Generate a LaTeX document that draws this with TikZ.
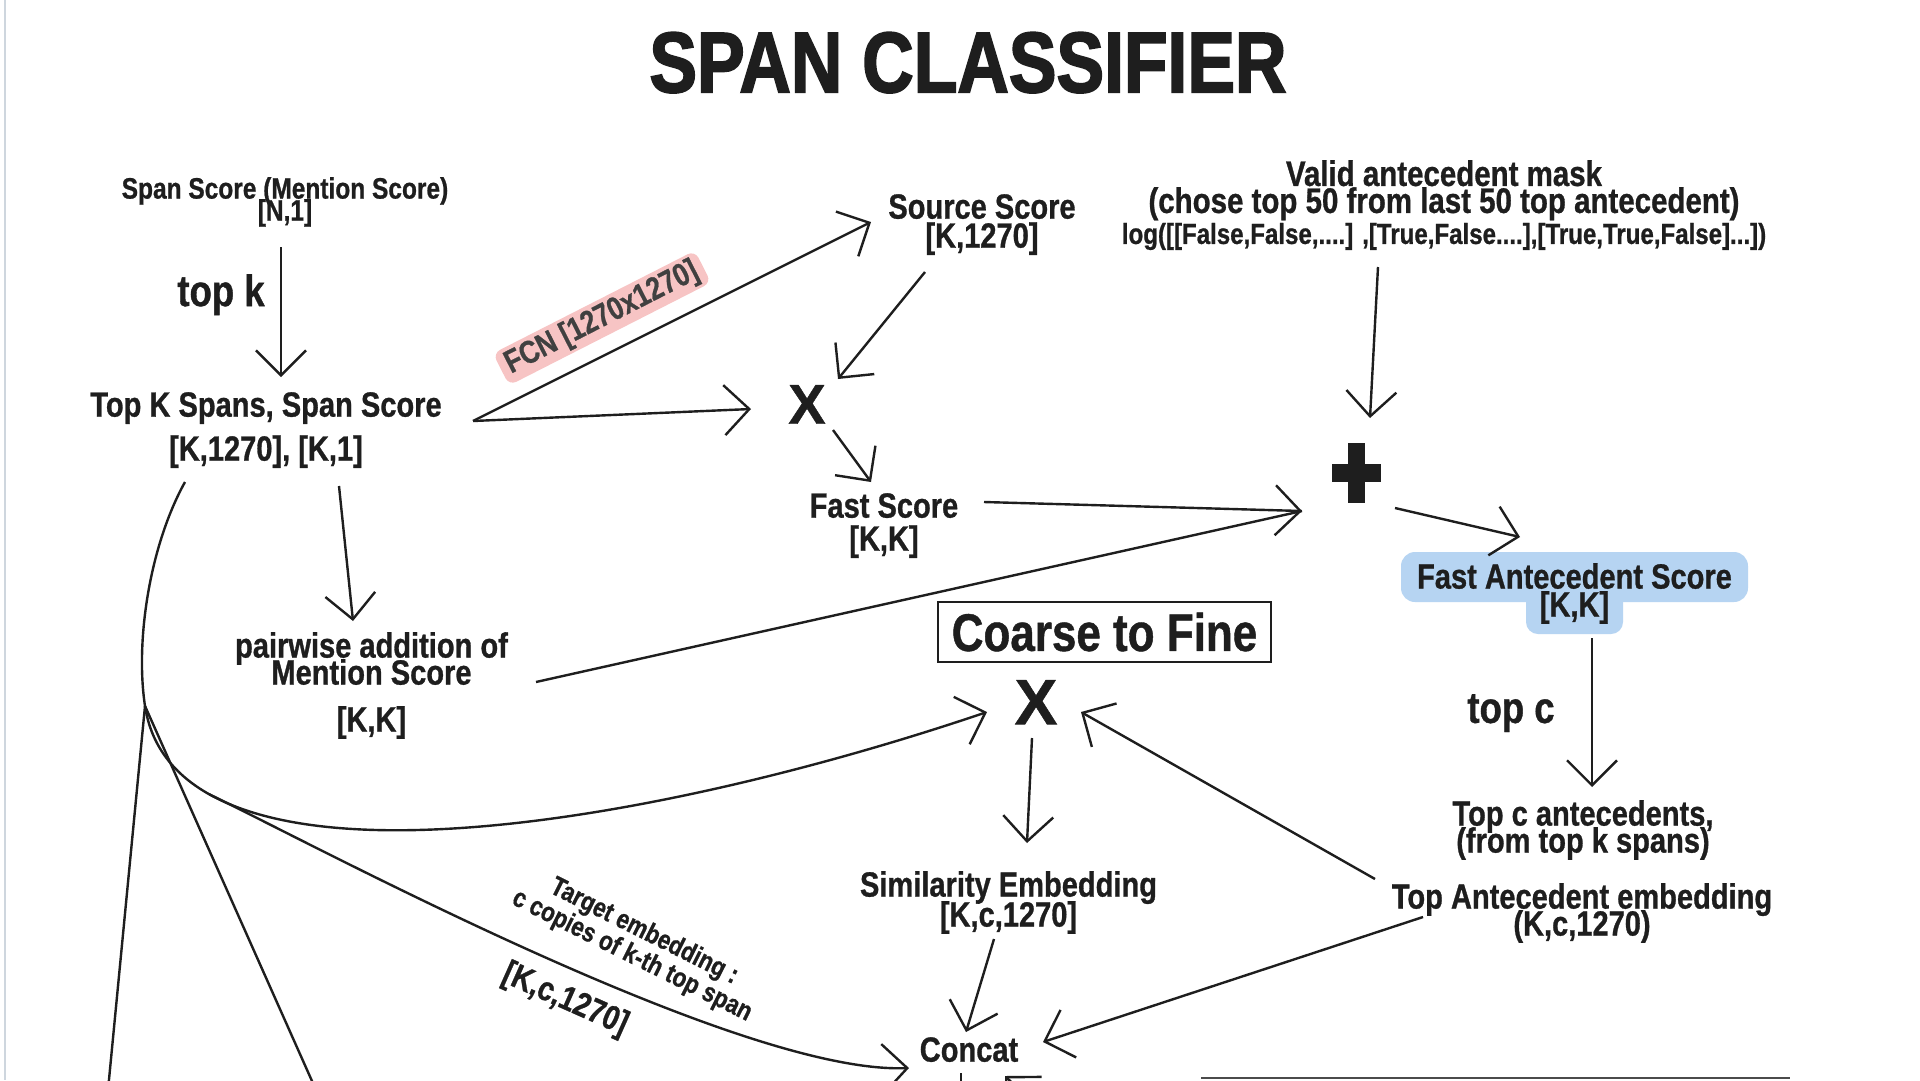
\documentclass[tikz,border=0pt]{standalone}
\usepackage{fontspec}
\setmainfont{Liberation Sans}[FakeStretch=0.83,FakeBold=0.8]
\newfontfamily\xfont{Liberation Sans}[FakeBold=0.8]
\newfontfamily\heavyfont{Liberation Sans}[FakeStretch=0.83,FakeBold=2]
\usetikzlibrary{arrows.meta,calc}
\definecolor{ink}{HTML}{1E1E1E}
\definecolor{pinkhl}{HTML}{F7C4C4}
\definecolor{bluehl}{HTML}{B6D4F2}
\definecolor{edgegray}{HTML}{CED6DE}
\newcommand\fz[2]{\fontsize{#1}{#2}\selectfont\lineskiplimit=-200pt\relax}
\tikzset{
  lbl/.style={inner sep=0pt, align=center, text=ink, anchor=north},
  arr/.style={draw=ink, line width=2.4pt, -{Straight Barb[length=25pt,width=50pt,line width=2.4pt]}},
  ln/.style={draw=ink, line width=2.4pt},
}
\begin{document}
\begin{tikzpicture}[x=1pt,y=-1pt]
\useasboundingbox (0,0) rectangle (1920,1080);
\clip (0,0) rectangle (1920,1080);
\fill[white] (0,0) rectangle (1920,1080);
\draw[edgegray, line width=2pt] (5,0) -- (5,1080);

% highlights
\fill[bluehl, rounded corners=14pt] (1401,552) rectangle (1748,602);
\fill[bluehl, rounded corners=12pt] (1526,590) rectangle (1623,634);

% nodes
\node[lbl, font=\heavyfont\bfseries\fz{86}{90}] (title) at (968,32) {SPAN CLASSIFIER};
\node[lbl, font=\bfseries\fz{29.5}{22}] (spanscore) at (285,177) {Span Score (Mention Score)\\{}[N,1]};
\node[lbl, font=\bfseries\fz{44}{44}] (topklbl) at (221,274) {top k};
\node[lbl, font=\bfseries\fz{35}{44}] (topks) at (266,392) {Top K Spans, Span Score\\{}[K,1270], [K,1]};
\node[lbl, font=\bfseries\fz{35}{29}] (source) at (982,194) {Source Score\\{}[K,1270]};
\node[lbl, font=\xfont\bfseries\fz{56}{56}] (x1) at (807,385) {X};
\node[lbl, font=\bfseries\fz{35}{33}] (fast) at (884,493) {Fast Score\\{}[K,K]};
\node[lbl, font=\bfseries\fz{35}{27}] (pairwise) at (371.5,632) {pairwise addition of\\Mention Score\\[20pt]{}[K,K]};
\node[minimum width=49pt, minimum height=60pt, inner sep=0pt] (plus) at (1356.5,473) {};
\fill[ink] ($(plus.center)+(-8.5,-30)$) rectangle ($(plus.center)+(8.5,30)$);
\fill[ink] ($(plus.center)+(-24.5,-9)$) rectangle ($(plus.center)+(24.5,9)$);
\node[lbl, font=\bfseries\fz{35.5}{27}] (mask) at (1444,160) {Valid antecedent mask\\(chose top 50 from last 50 top antecedent)\\[4pt]{\fz{29}{29}log([[False,False,....] ,[True,False....],[True,True,False]...])}};
\node[lbl, font=\bfseries\fz{35}{28}] (fastant) at (1574.5,563) {Fast Antecedent Score\\{}[K,K]};
\node[lbl, font=\bfseries\fz{44}{44}] (topclbl) at (1511,694) {top c};
\node[lbl, font=\bfseries\fz{35}{27}] (topcant) at (1583,800) {Top c antecedents,\\(from top k spans)};
\node[lbl, font=\bfseries\fz{35}{27}] (topemb) at (1582,883) {Top Antecedent embedding\\(K,c,1270)};
\node[draw=ink, line width=2.4pt, minimum width=333pt, minimum height=60pt, inner sep=0pt, text=ink, font=\bfseries\fz{53}{53}] (coarse) at (1104.5,632) {Coarse to Fine};
\node[lbl, font=\xfont\bfseries\fz{64}{64}] (x2) at (1036,680) {X};
\node[lbl, font=\bfseries\fz{35}{30}] (sim) at (1008.5,871) {Similarity Embedding\\{}[K,c,1270]};
\node[lbl, font=\bfseries\fz{35}{35}] (concat) at (969,1037) {Concat};
\node[fill=pinkhl, rounded corners=8pt, inner xsep=7pt, inner ysep=3pt, rotate=27, text=ink!85, font=\bfseries\fz{32}{32}] (fcn) at (602,318) {FCN [1270x1270]};
\node[text=ink, inner sep=0pt, align=center, rotate=-26.5, font=\bfseries\fz{27}{27}] (tgt) at (638,944) {Target embedding :\\c copies of k-th top span};
\node[text=ink, inner sep=0pt, rotate=-24, font=\bfseries\fz{34}{34}] (tgtdim) at (565,1000) {[K,c,1270]};

% connectors
\draw[arr] ($(spanscore.north)+(-4,70)$) -- ($(topks.north)+(15,-15)$);
\draw[arr] ($(topks.north)+(207,29)$) -- ($(source.north)+(-111,28)$);
\draw[arr] ($(topks.north)+(207,29)$) -- ($(x1.north)+(-56,24)$);
\draw[arr] ($(source.north)+(-57,78)$) -- ($(x1.north)+(31,-6)$);
\draw[arr] ($(x1.north)+(26,45)$) -- ($(fast.north)+(-13,-11)$);
\draw[arr] ($(topks.north)+(73,94)$) -- ($(pairwise.north)+(-18.5,-11)$);
\draw[arr] ($(fast.north)+(100,9)$) -- ($(plus.center)+(-54.5,38)$);
\draw[ln] ($(pairwise.north)+(164.5,50)$) -- ($(plus.center)+(-54.5,38)$);
\draw[arr] ($(mask.north)+(-66,107)$) -- ($(plus.center)+(13.5,-55)$);
\draw[arr] ($(plus.center)+(38.5,35)$) -- ($(fastant.north)+(-54.5,-26)$);
\draw[arr] ($(fastant.north)+(17.5,75)$) -- ($(topcant.north)+(9,-13)$);
\draw[arr] ($(topemb.north)+(-207,-4)$) -- ($(x2.north)+(45,32)$);
\draw[arr] ($(topemb.north)+(-159,34)$) -- ($(concat.north)+(74,5)$);
\draw[arr] ($(x2.north)+(-4,58)$) -- ($(sim.north)+(18.5,-28)$);
\draw[arr] ($(sim.north)+(-14.5,68)$) -- ($(concat.north)+(-3,-5)$);

% big curve from top K spans to coarse X
\coordinate (hub) at (145,706);
\draw[ln] ($(topks.north)+(-81,90)$) .. controls (150,545) and (135,640) .. (hub);
\draw[arr] (hub) .. controls (175,904) and (626,834) .. ($(x2.north)+(-49,32)$) coordinate[pos=0.2] (tb);
\draw[arr] (tb) .. controls (315,845) and (740,1075) .. ($(concat.north)+(-60,31)$);
\coordinate (offl) at (108,1090);
\coordinate (offm) at (316,1090);
\draw[ln] (hub) -- (offl);
\draw[ln] (hub) -- (offm);

% partially visible elements at bottom edge
\coordinate (offd) at (961,1100);
\draw[ln] ($(concat.north)+(-8,36)$) -- (offd);
\coordinate (offc) at (1065,1135);
\draw[arr] (offc) -- ($(concat.north)+(36,39)$);
\draw[ink!80, line width=2.4pt] (1201,1078) -- (1790,1078);
\end{tikzpicture}
\end{document}
